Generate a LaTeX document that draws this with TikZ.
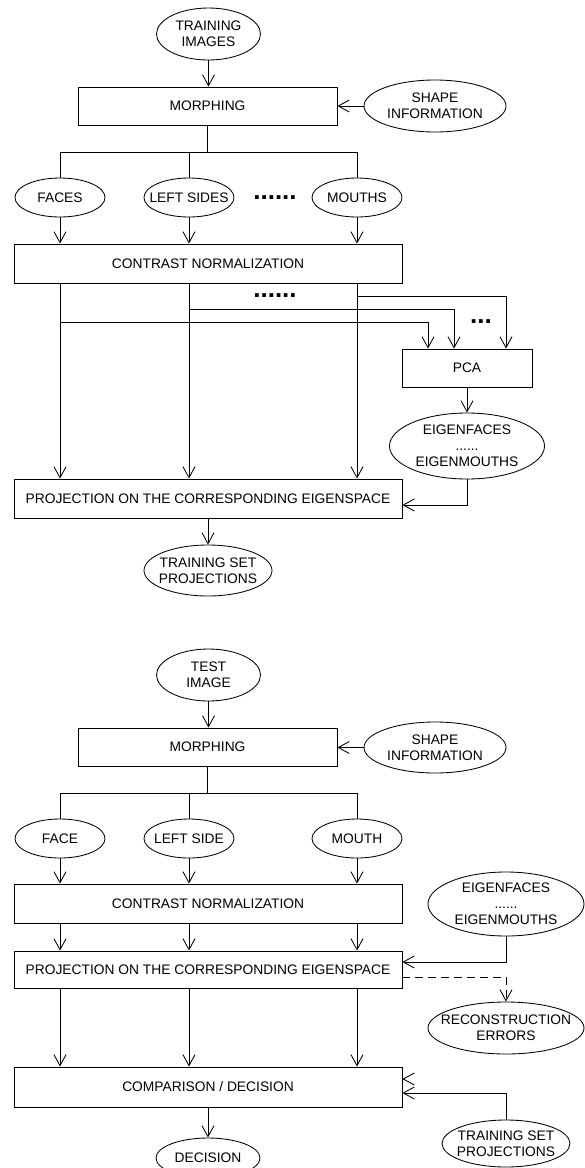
\documentclass[tikz,border=0pt]{standalone}
\usepackage{fontspec}
\setmainfont{Liberation Sans}
\usetikzlibrary{shapes.geometric,arrows.meta}
\begin{document}
\begin{tikzpicture}[x=1pt,y=-1pt,
  every node/.style={font=\fontsize{13.8}{16}\selectfont},
  box/.style={draw, rectangle, inner sep=0pt, line width=0.85pt},
  ell/.style={draw, ellipse, inner xsep=-10pt, inner ysep=-2pt, align=center, line width=0.85pt},
  conn/.style={line width=0.85pt},
  arr/.style={conn, -{Straight Barb[length=11pt,width=12pt]}},
  dotrow/.style={font=\fontsize{26}{26}\selectfont\bfseries, inner sep=0pt}
]
\useasboundingbox (0,0) rectangle (585,1168);
\clip (0,0) rectangle (585,1168);

% ---------- top (training) ----------
\node[ell, minimum width=104pt, minimum height=52pt] (ti) at (208.5,34) {TRAINING\\IMAGES};
\node[box, minimum width=259pt, minimum height=38pt] (morph1) at (207.5,106) {MORPHING};
\node[ell, minimum width=142pt, minimum height=52pt] (si1) at (435,106) {SHAPE\\INFORMATION};
\node[ell, minimum width=90pt, minimum height=39pt] (faces) at (60,197.5) {FACES};
\node[ell, minimum width=90pt, minimum height=39pt] (left) at (189,197.5) {LEFT SIDES};
\node[ell, minimum width=90pt, minimum height=39pt] (mouths) at (357,197.5) {MOUTHS};
\node[dotrow] (d1) at (275,198) {......};
\node[box, minimum width=388pt, minimum height=39pt] (cn1) at (208,263.5) {CONTRAST NORMALIZATION};
\node[dotrow] (d2) at (275,296) {......};
\node[dotrow] (d3) at (481,322) {...};
\node[box, minimum width=130pt, minimum height=38pt] (pca) at (467,368) {PCA};
\node[ell, minimum width=155pt, minimum height=66pt] (eig1) at (467,446) {EIGENFACES\\......\\EIGENMOUTHS};
\node[box, minimum width=388pt, minimum height=39pt] (proj1) at (208,498.5) {PROJECTION ON THE CORRESPONDING EIGENSPACE};
\node[ell, minimum width=128pt, minimum height=51pt] (tsp1) at (208,570.5) {TRAINING SET\\PROJECTIONS};

\coordinate (br1) at (208,152);
\coordinate (h1) at (0,296);
\coordinate (h2) at (0,309);
\coordinate (h3) at (0,322);

\draw[arr] (ti.south) -- (ti.south |- morph1.north);
\draw[arr] (si1.west) -- (morph1.east);
\draw[conn] (morph1.south) -- (morph1.south |- br1);
\draw[conn] (faces.north) -- (faces.north |- br1) -- (mouths.north |- br1) -- (mouths.north);
\draw[conn] (left.north) -- (left.north |- br1);
\foreach \n in {faces,left,mouths}{
  \draw[arr] (\n.south) -- (\n.south |- cn1.north);
  \draw[arr] (cn1.south -| \n) -- (proj1.north -| \n);
}
\draw[arr] (mouths |- h1) -| ([xshift=39pt]pca.north);
\draw[arr] (left |- h2) -| ([xshift=-13pt]pca.north);
\draw[arr] (faces |- h3) -| ([xshift=-39pt]pca.north);
\draw[arr] (pca.south) -- (eig1.north);
\draw[arr] (eig1.south) |- ([yshift=-6.5pt]proj1.east);
\draw[arr] (proj1.south) -- (tsp1.north);

% ---------- bottom (test) ----------
\node[ell, minimum width=104pt, minimum height=52pt] (te) at (208.5,675) {TEST\\IMAGE};
\node[box, minimum width=259pt, minimum height=38pt] (morph2) at (207.5,747) {MORPHING};
\node[ell, minimum width=142pt, minimum height=51pt] (si2) at (435,747.5) {SHAPE\\INFORMATION};
\node[ell, minimum width=90pt, minimum height=39pt] (face) at (60,838.5) {FACE};
\node[ell, minimum width=90pt, minimum height=39pt] (lside) at (189,838.5) {LEFT SIDE};
\node[ell, minimum width=90pt, minimum height=39pt] (mouth) at (357,838.5) {MOUTH};
\node[box, minimum width=388pt, minimum height=39pt] (cn2) at (208,903.5) {CONTRAST NORMALIZATION};
\node[ell, minimum width=156pt, minimum height=64pt] (eig2) at (506,904) {EIGENFACES\\......\\EIGENMOUTHS};
\node[box, minimum width=388pt, minimum height=37pt] (proj2) at (208,969.5) {PROJECTION ON THE CORRESPONDING EIGENSPACE};
\node[ell, minimum width=156pt, minimum height=52pt] (recon) at (506,1028) {RECONSTRUCTION\\ERRORS};
\node[box, minimum width=388pt, minimum height=40pt] (cmp) at (208,1087) {COMPARISON / DECISION};
\node[ell, minimum width=128pt, minimum height=47pt] (tsp2) at (506,1143.5) {TRAINING SET\\PROJECTIONS};
\node[ell, minimum width=104pt, minimum height=40pt] (dec) at (208,1158) {DECISION};

\coordinate (br2) at (208,793);
\draw[arr] (te.south) -- (te.south |- morph2.north);
\draw[arr] (si2.west) -- (si2.west -| morph2.east);
\draw[conn] (morph2.south) -- (morph2.south |- br2);
\draw[conn] (face.north) -- (face.north |- br2) -- (mouth.north |- br2) -- (mouth.north);
\draw[conn] (lside.north) -- (lside.north |- br2);
\foreach \n in {face,lside,mouth}{
  \draw[arr] (\n.south) -- (\n.south |- cn2.north);
  \draw[arr] (cn2.south -| \n) -- (proj2.north -| \n);
  \draw[arr] (proj2.south -| \n) -- (cmp.north -| \n);
}
\draw[arr] (eig2.south) |- ([yshift=7.5pt]proj2.east);
\draw[arr, dash pattern=on 8pt off 5pt] ([yshift=-7.5pt]proj2.east) -| (recon.north);
\coordinate (lone) at ([xshift=1pt,yshift=8pt]cmp.east);
\draw[arr] (lone) -- ([yshift=8pt]cmp.east);
\draw[arr] (tsp2.north) |- ([yshift=-6pt]cmp.east);
\draw[arr] (cmp.south) -- (dec.north);
\end{tikzpicture}
\end{document}
